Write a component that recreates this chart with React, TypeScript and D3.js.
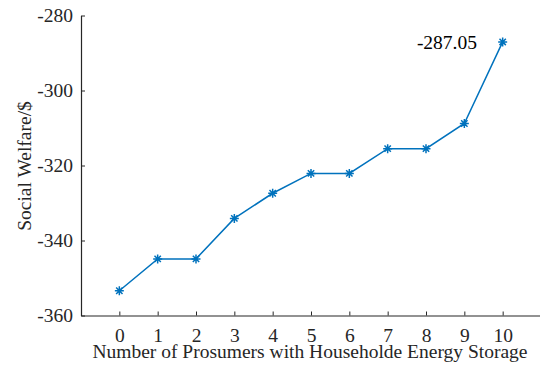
import React, { useEffect, useRef } from "react";
import * as d3 from "d3";

const prosumers = [0, 1, 2, 3, 4, 5, 6, 7, 8, 9, 10];
const welfare = [-353.4, -344.9, -344.9, -334.1, -327.4, -322.1, -322.1, -315.5, -315.5, -308.8, -287.05];
const yTicks = [-360, -340, -320, -300, -280];
const annotation = "-287.05";

export default function App() {
  const ref = useRef<SVGSVGElement>(null);

  useEffect(() => {
    const width = 540;
    const height = 371;
    const svg = d3.select(ref.current);
    svg.selectAll("*").remove();
    svg.attr("width", width).attr("height", height);

    const x = d3.scaleLinear().domain([-1, 11]).range([81, 541]);
    const y = d3.scaleLinear().domain([-360, -280]).range([315.5, 15.5]);
    const font = "'Times New Roman', 'Liberation Serif', serif";
    const fs = 19.5;
    const blue = "#0072BD";

    // axes, ticks pointing inward
    const xAxis = svg.append("g").attr("transform", `translate(0,${y(-360)})`)
      .call(d3.axisBottom(x).tickValues(prosumers).tickSizeInner(-4).tickSizeOuter(0).tickPadding(0).tickFormat(d => String(d)));
    const yAxis = svg.append("g").attr("transform", `translate(${x(-1)},0)`)
      .call(d3.axisLeft(y).tickValues(yTicks).tickSizeInner(-4).tickSizeOuter(0).tickPadding(8).tickFormat(d => String(d)));

    [xAxis, yAxis].forEach(g => {
      g.attr("font-family", font).attr("font-size", fs);
      g.select(".domain").attr("stroke", "#262626").attr("stroke-width", 1.2);
      g.selectAll(".tick line").attr("stroke", "#262626");
      g.selectAll("text").attr("font-family", font).attr("font-size", fs).attr("fill", "#262626");
    });
    xAxis.selectAll("text").attr("dy", null).attr("y", 342 - y(-360));
    yAxis.selectAll("text").attr("dy", "0.33em");

    const line = d3.line<number>().x((_, i) => x(prosumers[i])).y(d => y(d));
    svg.append("path").datum(welfare).attr("d", line)
      .attr("fill", "none").attr("stroke", blue).attr("stroke-width", 1.5);

    const star = (g: any) => {
      const r = 4.5;
      const d = r * Math.SQRT1_2;
      g.append("path")
        .attr("d", `M${-r},0L${r},0M0,${-r}L0,${r}M${-d},${-d}L${d},${d}M${-d},${d}L${d},${-d}`)
        .attr("stroke", blue).attr("stroke-width", 1.5).attr("fill", "none");
    };
    svg.append("g").selectAll("g").data(welfare).join("g")
      .attr("transform", (d, i) => `translate(${x(prosumers[i])},${y(d)})`)
      .each(function () { star(d3.select(this)); });

    svg.append("text").attr("x", 477).attr("y", y(-287.05) + 7)
      .attr("text-anchor", "end").attr("font-family", font).attr("font-size", fs)
      .attr("fill", "#000").text(annotation);

    svg.append("text").attr("x", 310).attr("y", 358)
      .attr("text-anchor", "middle").attr("font-family", font).attr("font-size", fs)
      .attr("fill", "#262626").text("Number of Prosumers with Householde Energy Storage");

    svg.append("text").attr("transform", `translate(31,166) rotate(-90)`)
      .attr("text-anchor", "middle").attr("font-family", font).attr("font-size", fs)
      .attr("fill", "#262626").text("Social Welfare/$");
  }, []);

  return <svg ref={ref} style={{ position: "absolute", left: 0, top: 0 }} />;
}
